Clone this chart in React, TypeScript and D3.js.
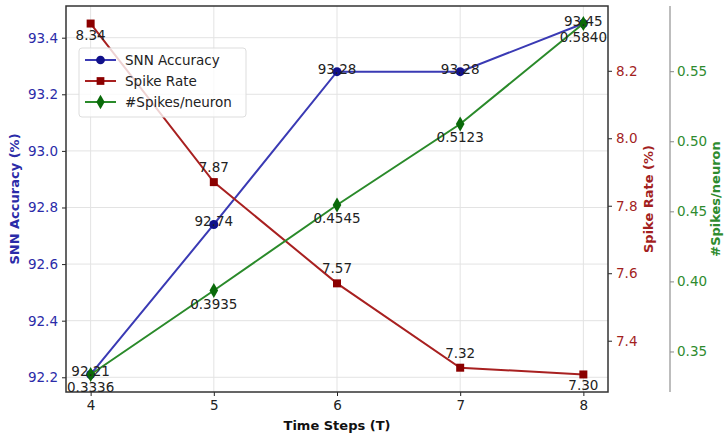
import { useEffect, useRef } from "react";
import * as d3 from "d3";

const timeSteps = [4, 5, 6, 7, 8];
const accuracy = [92.21, 92.74, 93.28, 93.28, 93.45];
const spikeRate = [8.34, 7.87, 7.57, 7.32, 7.3];
const spikesPerNeuron = [0.3336, 0.3935, 0.4545, 0.5123, 0.584];

const accTicks = [92.2, 92.4, 92.6, 92.8, 93.0, 93.2, 93.4];
const rateTicks = [7.4, 7.6, 7.8, 8.0, 8.2];
const spikeTicks = [0.35, 0.4, 0.45, 0.5, 0.55];

const W = 724;
const H = 434;
const m = { left: 66, right: 608, top: 6, bottom: 392 };
const FONT = "DejaVu Sans, sans-serif";

// matplotlib-like 5% padding
const padded = (vals: number[]) => {
  const [lo, hi] = d3.extent(vals) as [number, number];
  const p = (hi - lo) * 0.05;
  return [lo - p, hi + p];
};

const App = () => {
  const svgRef = useRef<SVGSVGElement>(null);

  useEffect(() => {
    const svg = d3.select(svgRef.current);
    svg.selectAll("*").remove();

    const x = d3.scaleLinear().domain([3.8, 8.2]).range([m.left, m.right]);
    const yAcc = d3.scaleLinear().domain(padded(accuracy)).range([m.bottom, m.top]);
    const yRate = d3.scaleLinear().domain(padded(spikeRate)).range([m.bottom, m.top]);
    const ySpk = d3.scaleLinear().domain(padded(spikesPerNeuron)).range([m.bottom, m.top]);

    svg.append("rect").attr("width", W).attr("height", H).attr("fill", "#fff");

    // grid
    const grid = svg.append("g").attr("stroke", "#e3e3e3").attr("stroke-width", 1);
    timeSteps.forEach((t) => {
      grid.append("line").attr("x1", x(t)).attr("x2", x(t)).attr("y1", m.top).attr("y2", m.bottom);
    });
    accTicks.forEach((v) => {
      grid.append("line").attr("x1", m.left).attr("x2", m.right).attr("y1", yAcc(v)).attr("y2", yAcc(v));
    });

    // third axis spine (offset)
    const spkX = 670;
    svg.append("line").attr("x1", spkX).attr("x2", spkX).attr("y1", m.top).attr("y2", m.bottom)
      .attr("stroke", "#bdbdbd").attr("stroke-width", 2);

    const styleAxis = (g: any, color: string, tickColor: string) => {
      g.select(".domain").remove();
      g.selectAll("line").attr("stroke", tickColor).attr("stroke-width", 1);
      g.selectAll("text").attr("fill", color).attr("font-size", 13.5).attr("font-family", FONT);
    };

    const bottom = svg.append("g").attr("transform", `translate(0,${m.bottom})`)
      .call(d3.axisBottom(x).tickValues(timeSteps).tickFormat(d3.format("d")).tickSize(4).tickPadding(4));
    styleAxis(bottom, "#222", "#222");

    const left = svg.append("g").attr("transform", `translate(${m.left},0)`)
      .call(d3.axisLeft(yAcc).tickValues(accTicks).tickFormat(d3.format(".1f")).tickSize(4).tickPadding(4));
    styleAxis(left, "#2b2ba8", "#222");

    const right = svg.append("g").attr("transform", `translate(${m.right},0)`)
      .call(d3.axisRight(yRate).tickValues(rateTicks).tickFormat(d3.format(".1f")).tickSize(4).tickPadding(4));
    styleAxis(right, "#a31f1f", "#222");

    const far = svg.append("g").attr("transform", `translate(${spkX},0)`)
      .call(d3.axisRight(ySpk).tickValues(spikeTicks).tickFormat(d3.format(".2f")).tickSize(4).tickPadding(3));
    styleAxis(far, "#2e8b2e", "#888");

    // frame
    svg.append("rect").attr("x", m.left).attr("y", m.top)
      .attr("width", m.right - m.left).attr("height", m.bottom - m.top)
      .attr("fill", "none").attr("stroke", "#333").attr("stroke-width", 1.5);

    // axis titles
    svg.append("text").attr("x", (m.left + m.right) / 2).attr("y", 430)
      .attr("text-anchor", "middle").attr("font-weight", "bold").attr("font-size", 13)
      .attr("font-family", FONT).attr("fill", "#111").text("Time Steps (T)");
    svg.append("text").attr("transform", `translate(19,${(m.top + m.bottom) / 2}) rotate(-90)`)
      .attr("text-anchor", "middle").attr("font-weight", "bold").attr("font-size", 13)
      .attr("font-family", FONT).attr("fill", "#2b2ba8").text("SNN Accuracy (%)");
    svg.append("text").attr("transform", `translate(653,${(m.top + m.bottom) / 2}) rotate(-90)`)
      .attr("text-anchor", "middle").attr("font-weight", "bold").attr("font-size", 13)
      .attr("font-family", FONT).attr("fill", "#a31f1f").text("Spike Rate (%)");
    svg.append("text").attr("transform", `translate(720,${(m.top + m.bottom) / 2}) rotate(-90)`)
      .attr("text-anchor", "middle").attr("font-weight", "bold").attr("font-size", 13)
      .attr("font-family", FONT).attr("fill", "#2e8b2e").text("#Spikes/neuron");

    const series = [
      { values: accuracy, y: yAcc, line: "#3a3ab4", mark: "#10108a", shape: d3.symbolCircle, fmt: ".2f" },
      { values: spikeRate, y: yRate, line: "#a82020", mark: "#8b0000", shape: d3.symbolSquare, fmt: ".2f" },
      { values: spikesPerNeuron, y: ySpk, line: "#2a8a2a", mark: "#0a6a0a", shape: d3.symbolDiamond, fmt: ".4f" },
    ];

    series.forEach((s) => {
      const line = d3.line<number>().x((_, i) => x(timeSteps[i])).y((v) => s.y(v));
      svg.append("path").datum(s.values).attr("d", line).attr("fill", "none")
        .attr("stroke", s.line).attr("stroke-width", 2);
      svg.selectAll(null).data(s.values).join("path")
        .attr("d", d3.symbol(s.shape, 64)())
        .attr("transform", (v, i) => `translate(${x(timeSteps[i])},${s.y(v)})`)
        .attr("fill", s.mark);
    });

    // value labels
    const label = (txt: string, px: number, py: number) =>
      svg.append("text").attr("x", px).attr("y", py).attr("text-anchor", "middle")
        .attr("dominant-baseline", "central").attr("font-size", 13.5).attr("font-family", FONT)
        .attr("fill", "#222").text(txt);

    accuracy.forEach((v, i) => label(d3.format(".2f")(v), x(timeSteps[i]), yAcc(v) - 3));
    spikeRate.forEach((v, i) => {
      const below = i === 0 || i === spikeRate.length - 1;
      label(d3.format(".2f")(v), x(timeSteps[i]), yRate(v) + (below ? 11 : -15));
    });
    spikesPerNeuron.forEach((v, i) => label(d3.format(".4f")(v), x(timeSteps[i]), ySpk(v) + 13));

    // legend
    const lg = svg.append("g").attr("transform", "translate(79,48)");
    lg.append("rect").attr("width", 167).attr("height", 69).attr("rx", 3)
      .attr("fill", "rgba(255,255,255,0.8)").attr("stroke", "#ddd");
    const names = ["SNN Accuracy", "Spike Rate", "#Spikes/neuron"];
    series.forEach((s, i) => {
      const cy = 12 + i * 21;
      lg.append("line").attr("x1", 6).attr("x2", 37).attr("y1", cy).attr("y2", cy)
        .attr("stroke", s.line).attr("stroke-width", 2);
      lg.append("path").attr("d", d3.symbol(s.shape, 60)()).attr("transform", `translate(21.5,${cy})`)
        .attr("fill", s.mark);
      lg.append("text").attr("x", 46).attr("y", cy).attr("dominant-baseline", "central")
        .attr("font-size", 13.5).attr("font-family", FONT).attr("fill", "#222").text(names[i]);
    });
  }, []);

  return (
    <svg ref={svgRef} width={W} height={H}
      style={{ position: "absolute", left: 0, top: 0, display: "block" }} />
  );
};

export default App;
